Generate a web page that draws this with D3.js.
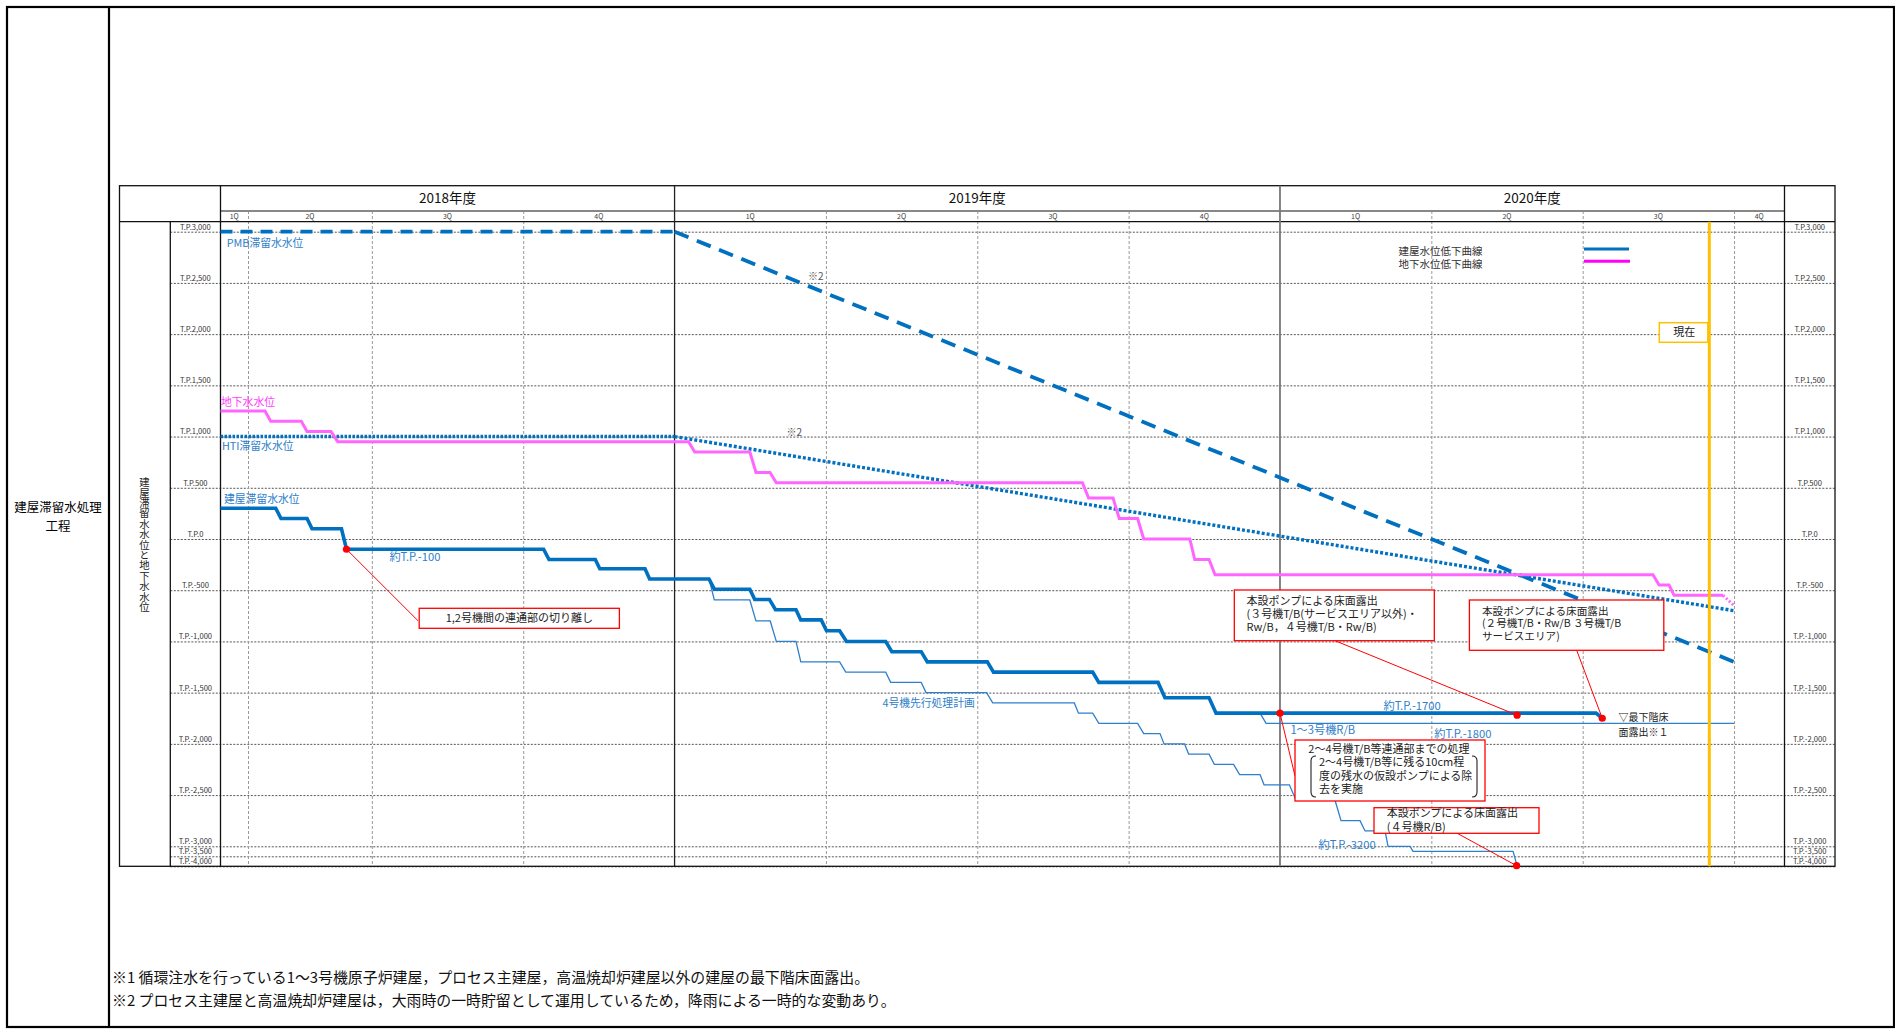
<!DOCTYPE html>
<html><head><meta charset="utf-8">
<script src="https://cdn.jsdelivr.net/npm/d3@7"></script>
<style>
html,body{margin:0;padding:0;background:#fff;}
svg{display:block;}
text{font-family:"Noto Sans CJK JP","Noto Sans",sans-serif;}
</style></head><body>
<svg id="chart" width="1895" height="1029"></svg>
<script>
// ---------------- DATA ----------------
// x is measured in months from the start of FY2018 (April 2018 = 0)
const yTickValues = [3000,2500,2000,1500,1000,500,0,-500,-1000,-1500,-2000,-2500,-3000,-3500,-4000];
const yTickLabels = ["T.P.3,000","T.P.2,500","T.P.2,000","T.P.1,500","T.P.1,000","T.P.500","T.P.0","T.P.-500","T.P.-1,000","T.P.-1,500","T.P.-2,000","T.P.-2,500","T.P.-3,000","T.P.-3,500","T.P.-4,000"];
const fiscalYears = ["2018年度","2019年度","2020年度"];
const fiscalYearStart = [3,12,24];
const fiscalYearEnd = [12,24,34];
const quarterLabels = ["1Q","2Q","3Q","4Q","1Q","2Q","3Q","4Q","1Q","2Q","3Q","4Q"];
const quarterStart = [3,3.545,6,9,12,15,18,21,24,27,30,33];
const quarterEnd   = [3.545,6,9,12,15,18,21,24,27,30,33,34];

// 建屋滞留水水位 (thick blue)
const buildingLevel = [[3,300],[4.094,300],[4.199,200],[4.715,200],[4.814,100],[5.398,100],[5.497,-100],
 [9.404,-100],[9.511,-200],[10.429,-200],[10.518,-290],[11.414,-290],[11.506,-390],[12.683,-390],
 [12.788,-490],[13.492,-490],[13.589,-590],[13.88,-590],[14.001,-690],[14.407,-690],[14.502,-790],
 [14.907,-790],[15.012,-895],[15.272,-895],[15.408,-1000],[16.185,-1000],[16.306,-1100],[16.889,-1100],
 [17.01,-1200],[18.199,-1200],[18.322,-1300],[20.288,-1300],[20.409,-1400],[21.583,-1400],[21.72,-1550],
 [22.594,-1550],[22.733,-1700],[30.265,-1700],[30.388,-1750]];
// 4号機先行処理計画 (thin blue)
const unit4Plan = [[12.683,-390],[12.788,-595],[13.492,-595],[13.613,-800],[13.896,-800],[14.017,-1000],
 [14.407,-1000],[14.502,-1200],[15.272,-1200],[15.393,-1300],[16.185,-1300],[16.283,-1400],[16.889,-1400],
 [16.984,-1500],[18.184,-1500],[18.306,-1600],[19.924,-1600],[20.005,-1700],[20.288,-1700],[20.409,-1800],
 [21.178,-1800],[21.299,-1900],[21.622,-1900],[21.702,-2000],[22.108,-2000],[22.189,-2100],[22.594,-2100],
 [22.699,-2200],[23.08,-2200],[23.2,-2300],[23.605,-2300],[23.684,-2400],[24.186,-2400],[24.318,-2550],
 [25.091,-2550],[25.21,-2750],[25.587,-2750],[25.686,-2850],[26.082,-2850],[26.142,-3000],[26.578,-3000],
 [26.637,-3250],[28.62,-3250],[28.699,-3970]];
// 1～3号機R/B (thin blue)
const unit13RB = [[23.605,-1700],[23.724,-1800],[33.0,-1800]];
// 地下水水位 (magenta)
const groundwater = [[3,1250],[3.882,1250],[3.995,1150],[4.602,1150],[4.715,1050],[5.19,1050],[5.323,950],
 [12.278,950],[12.399,850],[13.492,850],[13.614,650],[13.892,650],[14.017,550],[20.084,550],[20.207,400],
 [20.691,400],[20.814,200],[21.178,200],[21.299,0],[22.213,0],[22.31,-200],[22.594,-200],[22.713,-350],
 [31.393,-350],[31.514,-450],[31.712,-450],[31.811,-550],[32.783,-550]];
const groundwaterForecast = [[32.783,-550],[33.0,-650]];
// PMB / HTI 滞留水水位
const pmbLevel = [[3,3000],[12,3000]];
const pmbForecast = [[12,3000],[33,-1200]];
const htiLevel = [[3,1000],[12,1000]];
const htiForecast = [[12,1000],[33,-700]];
// 現在
const currentMonth = 32.51;
// annotation points (red dots)
const milestoneNames = ["1,2号機間の連通部の切り離し","2～4号機T/B等連通部までの処理","本設ポンプによる床面露出(3号機T/B他)","本設ポンプによる床面露出(2号機T/B他)","本設ポンプによる床面露出(4号機R/B)"];
const milestoneMonths = [5.497,24.0,28.70,30.388,28.69];
const milestoneValues = [-100,-1700,-1720,-1750,-3970];

// ---------------- LAYOUT ----------------
const svg = d3.select("#chart");
const L = {frameL:7, frameT:7, frameR:1894, frameB:1027, divX:109,
  boxL:119.5, boxR:1835, boxT:185.7, yearB:211, headB:221.7,
  tickColX:170.3, plotL:220.5, plotR:1784.5, plotB:866.3};

const x = d3.scaleLinear().domain([3,34]).range([L.plotL, L.plotR]);
const y = d3.scaleLinear().domain([3000,-3000,-4000]).range([231.7,846.3,866.3]);

const BLUE = "#0070C0", THIN = "#2E7FCC", MAG = "#FF66FF", LBL = "#2F80CA";

// page frame
svg.append("rect").attr("x",L.frameL).attr("y",L.frameT).attr("width",L.frameR-L.frameL).attr("height",L.frameB-L.frameT)
  .attr("fill","none").attr("stroke","#000").attr("stroke-width",2.2);
svg.append("line").attr("x1",L.divX).attr("x2",L.divX).attr("y1",L.frameT).attr("y2",L.frameB).attr("stroke","#000").attr("stroke-width",2.2);
svg.append("text").attr("x",58).attr("y",508).attr("text-anchor","middle").attr("dy","0.35em").attr("font-size",12.5).text("建屋滞留水処理");
svg.append("text").attr("x",58).attr("y",527).attr("text-anchor","middle").attr("dy","0.35em").attr("font-size",12.5).text("工程");

// gridlines (horizontal)
const gGrid = svg.append("g").attr("transform",`translate(${L.tickColX},0)`)
  .call(d3.axisLeft(y).tickValues(yTickValues).tickSize(-(L.boxR-L.tickColX)).tickFormat(""));
gGrid.select(".domain").remove();
gGrid.selectAll("line").attr("stroke","#444").attr("stroke-width",0.9).attr("stroke-dasharray","2,1.5");

// quarter gridlines (vertical, dashed)
const qGrid = quarterEnd.filter(d => !fiscalYearEnd.includes(d));
const gQ = svg.append("g").attr("transform",`translate(0,${L.yearB})`)
  .call(d3.axisTop(x).tickValues(qGrid).tickSize(-(L.plotB-L.yearB)).tickFormat(""));
gQ.select(".domain").remove();
gQ.selectAll("line").attr("stroke","#9a9a9a").attr("stroke-width",1).attr("stroke-dasharray","3,2");

// header frame
const frame = svg.append("g").attr("fill","none");
frame.append("rect").attr("x",L.boxL).attr("y",L.boxT).attr("width",L.boxR-L.boxL).attr("height",L.plotB-L.boxT)
  .attr("stroke","#111").attr("stroke-width",1.3);
frame.append("line").attr("x1",L.plotL).attr("x2",L.plotR).attr("y1",L.yearB).attr("y2",L.yearB).attr("stroke","#888").attr("stroke-width",2);
frame.append("line").attr("x1",L.boxL).attr("x2",L.boxR).attr("y1",L.headB).attr("y2",L.headB).attr("stroke","#111").attr("stroke-width",1.3);
frame.append("line").attr("x1",L.tickColX).attr("x2",L.tickColX).attr("y1",L.headB).attr("y2",L.plotB).attr("stroke","#111").attr("stroke-width",1.3);
frame.append("line").attr("x1",L.plotL).attr("x2",L.plotL).attr("y1",L.boxT).attr("y2",L.plotB).attr("stroke","#111").attr("stroke-width",1.3);
frame.append("line").attr("x1",L.plotR).attr("x2",L.plotR).attr("y1",L.boxT).attr("y2",L.plotB).attr("stroke","#111").attr("stroke-width",1.3);
// fiscal year boundaries
fiscalYearStart.slice(1).forEach((m,i)=>{
  frame.append("line").attr("x1",x(m)).attr("x2",x(m)).attr("y1",L.boxT).attr("y2",L.plotB)
    .attr("stroke", i===0 ? "#222" : "#777").attr("stroke-width", i===0 ? 1.3 : 1.8);
});
// year labels
fiscalYears.forEach((t,i)=>{
  svg.append("text").attr("x",(x(fiscalYearStart[i])+x(fiscalYearEnd[i]))/2).attr("y",198.5)
    .attr("text-anchor","middle").attr("dy","0.35em").attr("font-size",13.5).attr("fill","#111").text(t);
});
// quarter labels
quarterLabels.forEach((t,i)=>{
  svg.append("text").attr("x",(x(quarterStart[i])+x(quarterEnd[i]))/2).attr("y",216.3)
    .attr("text-anchor","middle").attr("dy","0.35em").attr("font-size",7).attr("fill","#444")
    .attr("font-family","Liberation Sans, sans-serif").text(t);
});

// y tick labels (left and right)
function styleTicks(g, dx){
  g.select(".domain").remove();
  g.attr("font-family","Liberation Sans, sans-serif").attr("font-size",7.6);
  g.selectAll("text").attr("x",dx).attr("dy",-2.6).attr("text-anchor","middle").attr("fill","#333");
}
const gL = svg.append("g").attr("transform",`translate(${L.plotL},0)`)
  .call(d3.axisLeft(y).tickValues(yTickValues).tickFormat((d,i)=>yTickLabels[i]).tickSize(0));
styleTicks(gL, -(L.plotL-L.tickColX)/2);
const gR = svg.append("g").attr("transform",`translate(${L.plotR},0)`)
  .call(d3.axisRight(y).tickValues(yTickValues).tickFormat((d,i)=>yTickLabels[i]).tickSize(0));
styleTicks(gR, (L.boxR-L.plotR)/2);

// vertical axis title (single vertical text)
svg.append("text").attr("x",144.5).attr("y",477).attr("font-size",10.4).attr("fill","#222")
  .style("writing-mode","vertical-rl").style("text-orientation","upright")
  .text("建屋滞留水水位と地下水水位");

// ---------------- SERIES ----------------
const line = d3.line().x(d=>x(d[0])).y(d=>y(d[1]));
const plot = svg.append("g").attr("fill","none");
plot.append("path").datum(pmbLevel).attr("d",line).attr("stroke",BLUE).attr("stroke-width",3.8).attr("stroke-dasharray","12,8");
plot.append("path").datum(pmbForecast).attr("d",line).attr("stroke",BLUE).attr("stroke-width",3.8).attr("stroke-dasharray","15,9");
plot.append("path").datum(htiLevel).attr("d",line).attr("stroke",BLUE).attr("stroke-width",3.4).attr("stroke-dasharray","2.5,1.5");
plot.append("path").datum(htiForecast).attr("d",line).attr("stroke",BLUE).attr("stroke-width",3.4).attr("stroke-dasharray","3,2");
plot.append("path").datum(groundwater).attr("d",line).attr("stroke",MAG).attr("stroke-width",3);
plot.append("path").datum(groundwaterForecast).attr("d",line).attr("stroke",MAG).attr("stroke-width",3).attr("stroke-dasharray","2,2");
plot.append("path").datum(unit4Plan).attr("d",line).attr("stroke",THIN).attr("stroke-width",1.3);
plot.append("path").datum(unit13RB).attr("d",line).attr("stroke",THIN).attr("stroke-width",1.3);
plot.append("path").datum(buildingLevel).attr("d",line).attr("stroke",BLUE).attr("stroke-width",3.6);

// current line
svg.append("line").attr("x1",x(currentMonth)).attr("x2",x(currentMonth)).attr("y1",L.headB).attr("y2",L.plotB)
  .attr("stroke","#FFC000").attr("stroke-width",3);
svg.append("rect").attr("x",1659.3).attr("y",322.7).attr("width",x(currentMonth)-1.5-1659.3).attr("height",19.6)
  .attr("fill","#fff").attr("stroke","#FFC000").attr("stroke-width",1.5);
svg.append("text").attr("x",(1659.3+x(currentMonth))/2).attr("y",332.5).attr("dy","0.35em").attr("text-anchor","middle")
  .attr("font-size",11).attr("fill","#222").text("現在");

// legend
const legend = svg.append("g").attr("font-size",10.5).attr("fill","#333");
legend.append("text").attr("x",1398.5).attr("y",251).attr("dy","0.35em").text("建屋水位低下曲線");
legend.append("text").attr("x",1398.5).attr("y",264).attr("dy","0.35em").text("地下水位低下曲線");
legend.append("line").attr("x1",1584).attr("x2",1629).attr("y1",249).attr("y2",249).attr("stroke",BLUE).attr("stroke-width",3);
legend.append("line").attr("x1",1584).attr("x2",1630).attr("y1",261.3).attr("y2",261.3).attr("stroke","#FF00FF").attr("stroke-width",3);

// series labels
function label(tx,px,py,col,fs){ svg.append("text").attr("x",px).attr("y",py).attr("dy","0.35em").attr("font-size",fs||10.8).attr("fill",col).text(tx); }
label("PMB滞留水水位",226.7,243.3,LBL);
label("地下水水位",221,402.7,"#FF3CFF");
label("HTI滞留水水位",222,446.7,LBL);
label("建屋滞留水水位",224,499.3,LBL);
label("約T.P.-100",389.4,557.3,LBL,11.2);
label("4号機先行処理計画",882.4,703.3,LBL);
label("約T.P.-1700",1383.5,706,LBL,11.2);
label("1～3号機R/B",1290.4,730,LBL,11.2);
label("約T.P.-1800",1434.2,734,LBL,11.2);
label("約T.P.-3200",1318.5,845,LBL,11.2);
label("※2",808,276.7,"#555",10);
label("※2",786.5,432.7,"#555",10);
label("▽最下階床",1618.4,717.3,"#222",10);
label("面露出※１",1618.4,732.7,"#222",10);

// annotation boxes
const RED = "#FF0000";
function box(bx,by,bw,bh,lines,tx,ty0,lh,indent,fs){
  svg.append("rect").attr("x",bx).attr("y",by).attr("width",bw).attr("height",bh).attr("fill","#fff").attr("stroke",RED).attr("stroke-width",1.3);
  const t = svg.append("text").attr("font-size",fs||11).attr("fill","#222");
  lines.forEach((s,i)=>{ t.append("tspan").attr("x",tx+(i>0&&indent?indent:0)).attr("y",ty0+i*lh).attr("dy","0.35em").text(s); });
}
function leader(x1,y1,x2,y2){ svg.append("line").attr("x1",x1).attr("y1",y1).attr("x2",x2).attr("y2",y2).attr("stroke",RED).attr("stroke-width",1); }

const dots = milestoneMonths.map((m,i)=>[x(m), y(milestoneValues[i])]);
leader(dots[0][0],dots[0][1],418,620.7);
leader(dots[1][0],dots[1][1],1295,776);
leader(1335,640.7,dots[2][0],dots[2][1]);
leader(1576.7,650.3,dots[3][0],dots[3][1]);
leader(1457.2,833.3,dots[4][0],dots[4][1]);

box(419.2,608.3,200.2,20,[],0,0,0);
svg.append("text").attr("x",519.3).attr("y",618.3).attr("dy","0.35em").attr("text-anchor","middle").attr("font-size",11).attr("fill","#222").text("1,2号機間の連通部の切り離し");
box(1234.3,590,200,50.7,["本設ポンプによる床面露出","(３号機T/B(サービスエリア以外)・","Rw/B，４号機T/B・Rw/B)"],1246.5,600.7,13,0);
box(1469.4,600,194.4,50.3,["本設ポンプによる床面露出","(２号機T/B・Rw/B ３号機T/B","サービスエリア)"],1482,611,12.5,0,10.6);
box(1295,740,190,61,["2～4号機T/B等連通部までの処理","2～4号機T/B等に残る10cm程","度の残水の仮設ポンプによる除","去を実施"],1308.3,749.3,13.3,10.7);
box(1374,807.7,165,25.6,["本設ポンプによる床面露出","(４号機R/B)"],1386.7,813.3,13.4,0);
// brackets inside box C
svg.append("path").attr("d","M1316,756 Q1311,756 1311,761 L1311,792 Q1311,797 1316,797").attr("fill","none").attr("stroke","#222").attr("stroke-width",1.1);
svg.append("path").attr("d","M1472,756 Q1477,756 1477,761 L1477,792 Q1477,797 1472,797").attr("fill","none").attr("stroke","#222").attr("stroke-width",1.1);

svg.selectAll(".dot").data(dots).enter().append("circle").attr("class","dot")
  .attr("cx",d=>d[0]).attr("cy",d=>d[1]).attr("r",3.6).attr("fill",RED);

// footnotes
svg.append("text").attr("x",112).attr("y",978).attr("dy","0.35em").attr("font-size",14.9).attr("fill","#111")
  .text("※1 循環注水を行っている1～3号機原子炉建屋，プロセス主建屋，高温焼却炉建屋以外の建屋の最下階床面露出。");
svg.append("text").attr("x",112).attr("y",1001).attr("dy","0.35em").attr("font-size",14.9).attr("fill","#111")
  .text("※2 プロセス主建屋と高温焼却炉建屋は，大雨時の一時貯留として運用しているため，降雨による一時的な変動あり。");
</script>
</body></html>
